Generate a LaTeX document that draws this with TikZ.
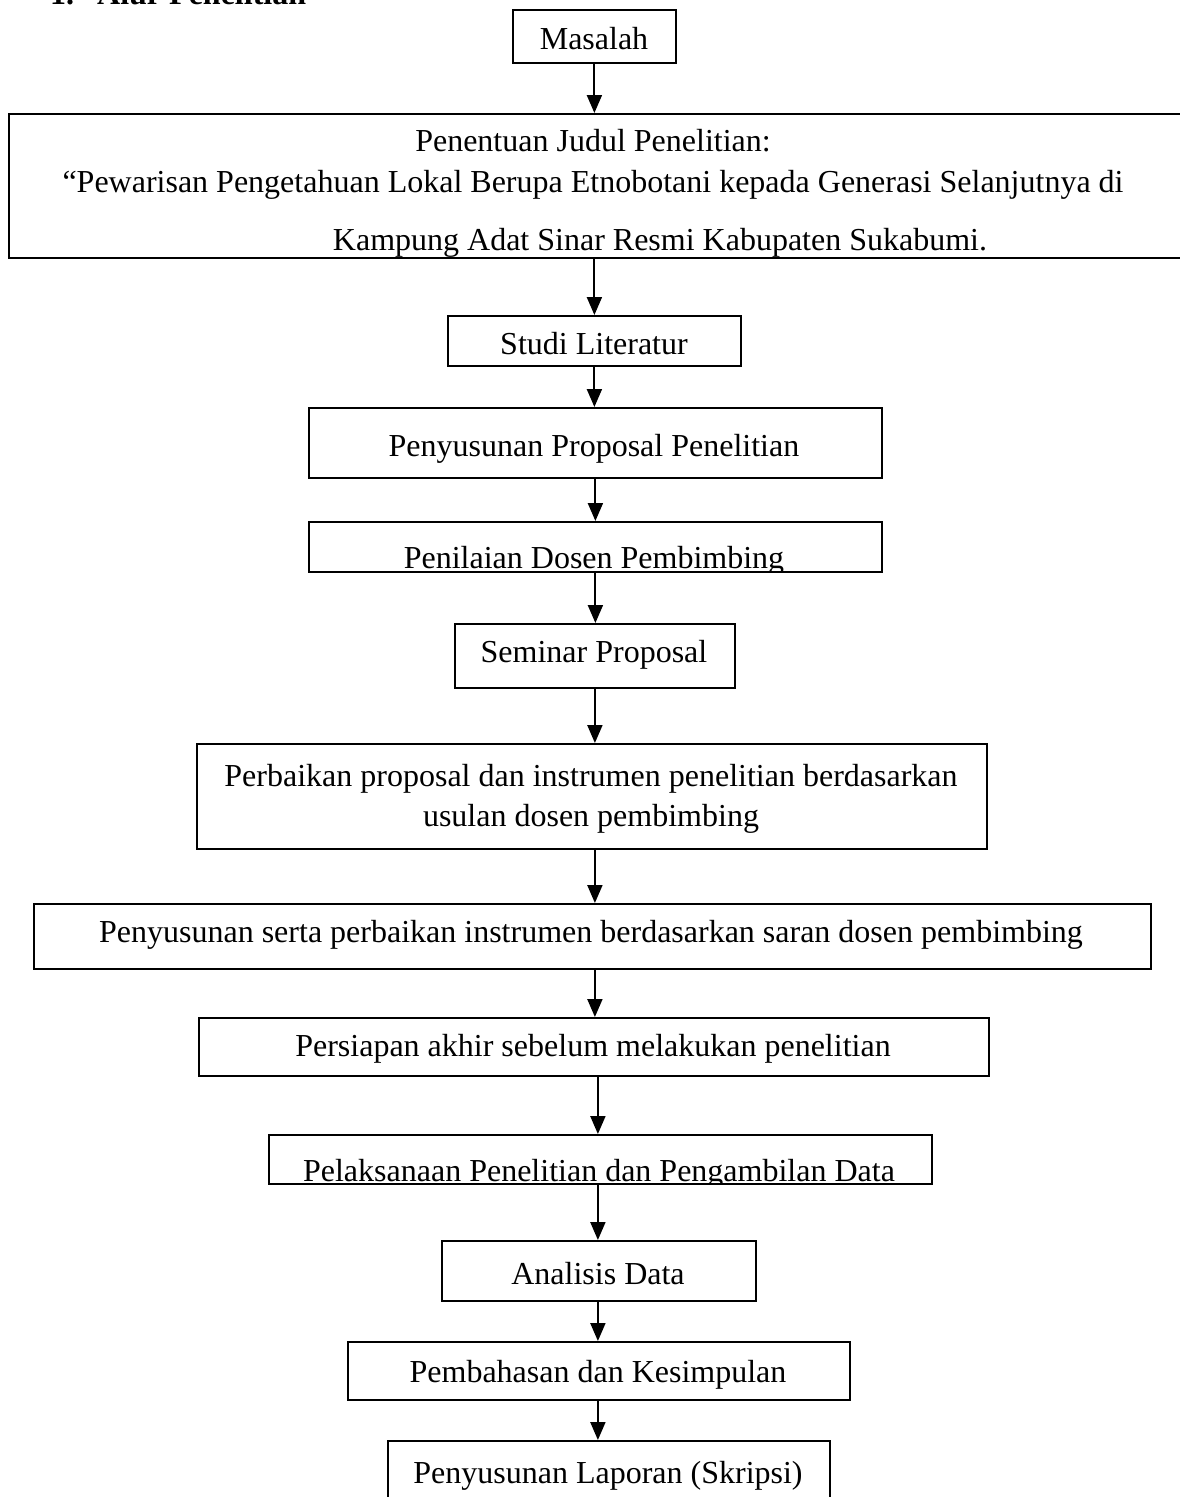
\documentclass[tikz,border=0pt]{standalone}
\usepackage{fontspec}
\setmainfont{Liberation Serif}
\usetikzlibrary{arrows.meta,positioning}
\begin{document}
\begin{tikzpicture}[x=1pt,y=-1pt,
  box/.style={draw, line width=1.8pt, inner sep=0pt, anchor=north west},
  lbl/.style={font=\fontsize{32}{38}\selectfont, inner sep=0pt, anchor=base},
  head/.style={font=\fontsize{32}{38}\selectfont\bfseries, inner sep=0pt, anchor=base west},
  arr/.style={line width=2pt, -{Triangle[width=15pt,length=18pt]}}]
\useasboundingbox (0,0) rectangle (1179,1497);
% heading (cut by the page top, as in the reference)
\node[head] (hnum) at (50,4) {1.};
\node[head] (htitle) at (97,4) {Alur Penelitian};
% boxes
\node[box, minimum width=163pt, minimum height=53pt] (b1) at (512,9) {};
\node[box, minimum width=1220pt, minimum height=144pt] (b2) at (8,113) {};
\node[box, minimum width=293pt, minimum height=50pt] (b3) at (447,315) {};
\node[box, minimum width=573pt, minimum height=70pt] (b4) at (308,407) {};
\node[box, minimum width=573pt, minimum height=50pt] (b5) at (308,521) {};
\node[box, minimum width=280pt, minimum height=64pt] (b6) at (454,623) {};
\node[box, minimum width=790pt, minimum height=105pt] (b7) at (196,743) {};
\node[box, minimum width=1117pt, minimum height=65pt] (b8) at (33,903) {};
\node[box, minimum width=790pt, minimum height=58pt] (b9) at (198,1017) {};
\node[box, minimum width=663pt, minimum height=49pt] (b10) at (268,1134) {};
\node[box, minimum width=314pt, minimum height=60pt] (b11) at (441,1240) {};
\node[box, minimum width=502pt, minimum height=58pt] (b12) at (347,1341) {};
\node[box, minimum width=442pt, minimum height=70pt] (b13) at (387,1440) {};
% texts
\node[lbl] (t1) at (594,49) {Masalah};
\node[lbl] (t2a) at (593,151) {Penentuan Judul Penelitian:};
\node[lbl] (t2b) at (593,192) {“Pewarisan Pengetahuan Lokal Berupa Etnobotani kepada Generasi Selanjutnya di};
\begin{scope}
  \clip (b2.north west) rectangle (b2.south east);
  \node[lbl] (t2c) at (660,250) {Kampung Adat Sinar Resmi Kabupaten Sukabumi.};
\end{scope}
\node[lbl] (t3) at (594,354) {Studi Literatur};
\node[lbl] (t4) at (594,456) {Penyusunan Proposal Penelitian};
\begin{scope}
  \clip (b5.north west) rectangle (b5.south east);
  \node[lbl] (t5) at (594,568) {Penilaian Dosen Pembimbing};
\end{scope}
\node[lbl] (t6) at (594,662) {Seminar Proposal};
\node[lbl] (t7a) at (591,786) {Perbaikan proposal dan instrumen penelitian berdasarkan};
\node[lbl] (t7b) at (591,826) {usulan dosen pembimbing};
\node[lbl] (t8) at (591,942) {Penyusunan serta perbaikan instrumen berdasarkan saran dosen pembimbing};
\node[lbl] (t9) at (593,1056) {Persiapan akhir sebelum melakukan penelitian};
\begin{scope}
  \clip (b10.north west) rectangle (b10.south east);
  \node[lbl] (t10) at (599,1181) {Pelaksanaan Penelitian dan Pengambilan Data};
\end{scope}
\node[lbl] (t11) at (598,1284) {Analisis Data};
\node[lbl] (t12) at (598,1382) {Pembahasan dan Kesimpulan};
\node[lbl] (t13) at (608,1483) {Penyusunan Laporan (Skripsi)};
% connectors
\draw[arr] (b1.south) -- (b1.south |- b2.north);
\draw[arr] (b1.south |- b2.south) -- (b1.south |- b3.north);
\draw[arr] (b3.south) -- (b3.south |- b4.north);
\draw[arr] (b4.south) -- (b4.south |- b5.north);
\draw[arr] (b5.south) -- (b5.south |- b6.north);
\draw[arr] (b6.south) -- (b6.south |- b7.north);
\draw[arr] (b6.south |- b7.south) -- (b6.south |- b8.north);
\draw[arr] (b6.south |- b8.south) -- (b6.south |- b9.north);
\draw[arr] ([xshift=3pt]b6.south |- b9.south) -- ([xshift=3pt]b6.south |- b10.north);
\draw[arr] ([xshift=3pt]b6.south |- b10.south) -- ([xshift=3pt]b6.south |- b11.north);
\draw[arr] ([xshift=3pt]b6.south |- b11.south) -- ([xshift=3pt]b6.south |- b12.north);
\draw[arr] ([xshift=3pt]b6.south |- b12.south) -- ([xshift=3pt]b6.south |- b13.north);
\end{tikzpicture}
\end{document}
